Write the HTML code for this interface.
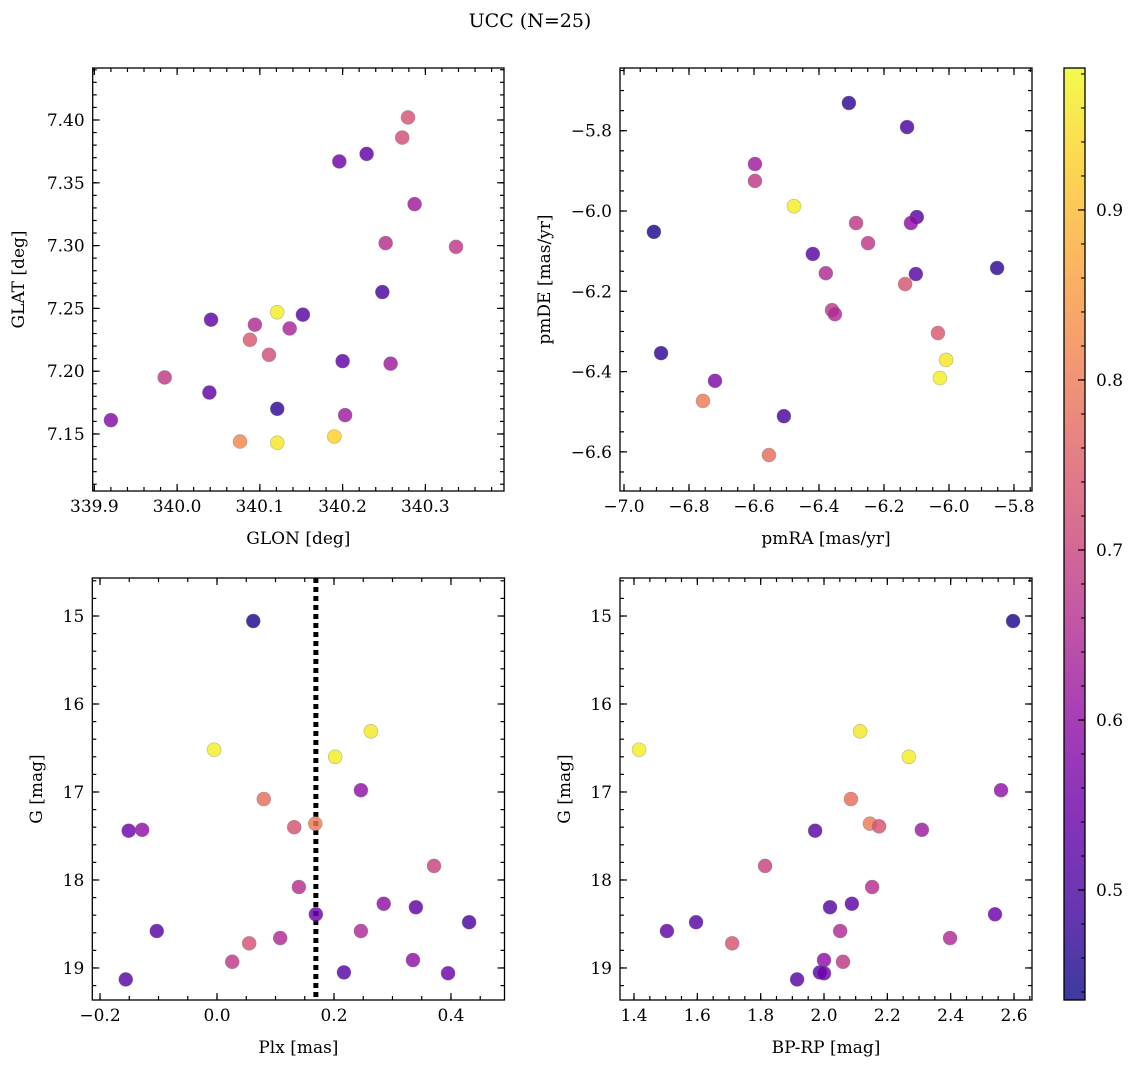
<!DOCTYPE html>
<html><head><meta charset="utf-8"><style>
html,body{margin:0;padding:0;background:#fff;}
svg text{font-family:"DejaVu Serif","Liberation Serif",serif;fill:#000;}
</style></head><body>
<svg id="fig" width="1136" height="1068" viewBox="0 0 1136 1068" xmlns="http://www.w3.org/2000/svg">
<defs>
<linearGradient id="plasma" x1="0" y1="1" x2="0" y2="0">
<stop offset="0" stop-color="#0d0887"/><stop offset="0.1" stop-color="#41049d"/><stop offset="0.2" stop-color="#6a00a8"/><stop offset="0.3" stop-color="#8f0da4"/><stop offset="0.4" stop-color="#b12a90"/><stop offset="0.5" stop-color="#cc4778"/><stop offset="0.6" stop-color="#e16462"/><stop offset="0.7" stop-color="#f2844b"/><stop offset="0.8" stop-color="#fca636"/><stop offset="0.9" stop-color="#fcce25"/><stop offset="1" stop-color="#f0f921"/>
</linearGradient>
</defs>
<text x="530" y="27" font-size="19" text-anchor="middle">UCC (N=25)</text>
</svg>
<script>
// ---- data ----
const glon = [340.279,340.272,340.196,340.229,340.287,340.252,340.337,340.248,340.121,340.152,340.041,340.094,340.136,340.088,340.111,340.200,340.258,339.985,340.039,339.920,340.121,340.203,340.076,340.121,340.190];
const glat = [7.402,7.386,7.367,7.373,7.333,7.302,7.299,7.263,7.247,7.245,7.241,7.237,7.234,7.225,7.213,7.208,7.206,7.195,7.183,7.161,7.170,7.165,7.144,7.143,7.148];
const probPos = [0.73,0.72,0.55,0.53,0.62,0.66,0.68,0.50,0.97,0.52,0.53,0.65,0.64,0.74,0.72,0.53,0.62,0.68,0.53,0.58,0.47,0.62,0.82,0.96,0.93];

const pmra = [-6.308,-6.129,-6.597,-6.597,-6.908,-6.477,-6.099,-6.286,-6.117,-6.249,-6.419,-6.379,-6.102,-5.852,-6.135,-6.360,-6.351,-6.034,-6.886,-6.009,-6.720,-6.028,-6.757,-6.508,-6.554];
const pmde = [-5.731,-5.791,-5.883,-5.925,-6.052,-5.988,-6.015,-6.030,-6.030,-6.080,-6.107,-6.155,-6.157,-6.142,-6.182,-6.247,-6.257,-6.304,-6.354,-6.371,-6.423,-6.416,-6.473,-6.511,-6.608];
const probPm = [0.47,0.50,0.62,0.68,0.45,0.97,0.52,0.68,0.60,0.68,0.52,0.65,0.52,0.47,0.73,0.68,0.65,0.74,0.47,0.96,0.57,0.97,0.80,0.50,0.78];

const plx = [0.062,-0.005,0.263,0.202,0.080,0.246,-0.151,-0.128,0.132,0.168,0.371,0.140,0.285,0.169,0.340,0.431,-0.103,0.246,0.055,0.108,0.026,0.335,-0.156,0.217,0.395];
const gmagA = [15.057,16.52,16.31,16.60,17.08,16.98,17.44,17.43,17.40,17.36,17.84,18.08,18.27,18.39,18.31,18.48,18.58,18.58,18.72,18.66,18.93,18.91,19.13,19.05,19.06];
const probPlx = [0.45,0.97,0.96,0.97,0.78,0.60,0.55,0.60,0.73,0.80,0.70,0.66,0.60,0.55,0.53,0.50,0.52,0.65,0.73,0.65,0.68,0.60,0.52,0.52,0.55];
const plxLine = [0.169];

const bprp = [2.597,1.416,2.114,2.268,2.559,2.085,1.972,2.145,2.174,2.309,1.814,2.152,2.088,2.019,2.540,1.596,1.504,2.051,1.710,2.398,2.060,2.000,1.915,1.987,2.000];
const gmagB = [15.057,16.52,16.31,16.60,16.98,17.08,17.44,17.36,17.39,17.43,17.84,18.08,18.27,18.31,18.39,18.48,18.58,18.58,18.72,18.66,18.93,18.91,19.13,19.05,19.06];
const probCmd = [0.45,0.97,0.96,0.97,0.60,0.78,0.52,0.80,0.73,0.62,0.70,0.66,0.53,0.52,0.55,0.52,0.53,0.65,0.73,0.65,0.68,0.60,0.52,0.52,0.55];

const cbarRange = [0.4353,0.9835];
const cbarTicks = [0.5,0.6,0.7,0.8,0.9];

// ---- helpers ----
const NS = "http://www.w3.org/2000/svg";
const svg = document.getElementById('fig');
function mk(tag, attrs, parent){
  const e = document.createElementNS(NS, tag);
  for (const k in attrs) e.setAttribute(k, attrs[k]);
  (parent||svg).appendChild(e);
  return e;
}
const stops = [[13,8,135],[65,4,157],[106,0,168],[143,13,164],[177,42,144],[204,71,120],[225,100,98],[242,132,75],[252,166,54],[252,206,37],[240,249,33]];
function plasma(t){
  t = Math.max(0, Math.min(1, t));
  const f = t*10, i = Math.min(9, Math.floor(f)), r = f - i;
  const a = stops[i], b = stops[i+1];
  return 'rgb(' + [0,1,2].map(k => Math.round(a[k] + (b[k]-a[k])*r)).join(',') + ')';
}
function colorOf(p){ return plasma((p - cbarRange[0])/(cbarRange[1]-cbarRange[0])); }
function fmt(v, d){ const s = Math.abs(v).toFixed(d); return (v < -1e-9 ? '\u2212' : '') + s; }
function ticksOf(min, max, step){
  const out = [];
  for (let k = Math.ceil(min/step - 1e-6); k <= Math.floor(max/step + 1e-6); k++) out.push(k*step);
  return out;
}

function panel(cfg){
  const g = mk('g', {});
  
  
  const sx = v => cfg.x0 + (v - cfg.xd[0])/(cfg.xd[1]-cfg.xd[0])*(cfg.x1-cfg.x0);
  const sy = cfg.invert
    ? v => cfg.y0 + (v - cfg.yd[0])/(cfg.yd[1]-cfg.yd[0])*(cfg.y1-cfg.y0)
    : v => cfg.y1 - (v - cfg.yd[0])/(cfg.yd[1]-cfg.yd[0])*(cfg.y1-cfg.y0);
  const tk = mk('g', {stroke:'#000','stroke-width':1.2}, g);
  
  
  ticksOf(cfg.xd[0], cfg.xd[1], cfg.xmin).forEach(v => {
    const x = sx(v); if (x < cfg.x0-0.5 || x > cfg.x1+0.5) return;
    mk('line', {x1:x,x2:x,y1:cfg.y1,y2:cfg.y1-4}, tk);
    mk('line', {x1:x,x2:x,y1:cfg.y0,y2:cfg.y0+4}, tk);
  });
  ticksOf(cfg.yd[0], cfg.yd[1], cfg.ymin).forEach(v => {
    const y = sy(v); if (y < cfg.y0-0.5 || y > cfg.y1+0.5) return;
    mk('line', {x1:cfg.x0,x2:cfg.x0+4,y1:y,y2:y}, tk);
    mk('line', {x1:cfg.x1,x2:cfg.x1-4,y1:y,y2:y}, tk);
  });
  ticksOf(cfg.xd[0], cfg.xd[1], cfg.xmaj).forEach(v => {
    const x = sx(v); if (x < cfg.x0-0.5 || x > cfg.x1+0.5) return;
    mk('line', {x1:x,x2:x,y1:cfg.y1,y2:cfg.y1-7}, tk);
    mk('line', {x1:x,x2:x,y1:cfg.y0,y2:cfg.y0+7}, tk);
    const t = mk('text', {x:x, y:cfg.y1+21, 'font-size':17, 'text-anchor':'middle'}, g);
    
    
    t.textContent = fmt(v, cfg.xdec);
  });
  ticksOf(cfg.yd[0], cfg.yd[1], cfg.ymaj).forEach(v => {
    const y = sy(v); if (y < cfg.y0-0.5 || y > cfg.y1+0.5) return;
    mk('line', {x1:cfg.x0,x2:cfg.x0+7,y1:y,y2:y}, tk);
    mk('line', {x1:cfg.x1,x2:cfg.x1-7,y1:y,y2:y}, tk);
    const t = mk('text', {x:cfg.x0-8, y:y+6, 'font-size':17, 'text-anchor':'end'}, g);
    
    
    t.textContent = fmt(v, cfg.ydec);
  });
  if (cfg.vline) cfg.vline.forEach(v => {
    const l = mk('line', {x1:sx(v), x2:sx(v), y1:cfg.y0, y2:cfg.y1, stroke:'#000','stroke-width':5,'stroke-dasharray':'5,4'}, g);
    
    
  });
  cfg.xs.forEach((xv, i) => {
    const c = mk('circle', {cx:sx(xv), cy:sy(cfg.ys[i]), r:7, fill:colorOf(cfg.cs[i]), 'fill-opacity':0.82, stroke:'#777', 'stroke-opacity':0.5, 'stroke-width':0.6}, g);
    
    
  });
  const fr = mk('rect', {x:cfg.x0, y:cfg.y0, width:cfg.x1-cfg.x0, height:cfg.y1-cfg.y0, fill:'none', stroke:'#000', 'stroke-width':1.3}, g);
  
  
  const xl = mk('text', {x:(cfg.x0+cfg.x1)/2, y:cfg.y1+53, 'font-size':17, 'text-anchor':'middle'}, g);
  
  
  xl.textContent = cfg.xlabel;
  const yc = (cfg.y0+cfg.y1)/2;
  const yl = mk('text', {x:cfg.ylx, y:yc, 'font-size':17, 'text-anchor':'middle', transform:'rotate(-90 '+cfg.ylx+' '+yc+')'}, g);
  
  
  yl.textContent = cfg.ylabel;
}

panel({name:'glon-glat-panel', x0:92.7, x1:504, y0:68, y1:491, xd:[339.898,340.395], yd:[7.1046,7.4414],
  xmaj:0.1, xmin:0.02, xdec:1, ymaj:0.05, ymin:0.01, ydec:2, xs:glon, ys:glat, cs:probPos,
  xlabel:'GLON [deg]', ylabel:'GLAT [deg]', ylx:24});
panel({name:'proper-motion-panel', x0:620, x1:1032, y0:68, y1:491, xd:[-7.0123,-5.7446], yd:[-6.6974,-5.6438],
  xmaj:0.2, xmin:0.05, xdec:1, ymaj:0.2, ymin:0.05, ydec:1, xs:pmra, ys:pmde, cs:probPm,
  xlabel:'pmRA [mas/yr]', ylabel:'pmDE [mas/yr]', ylx:550});
panel({name:'parallax-panel', x0:92.3, x1:504.5, y0:578, y1:1000, xd:[-0.2132,0.4915], yd:[14.568,19.364], invert:true,
  xmaj:0.2, xmin:0.05, xdec:1, ymaj:1, ymin:0.2, ydec:0, xs:plx, ys:gmagA, cs:probPlx, vline:plxLine,
  xlabel:'Plx [mas]', ylabel:'G [mag]', ylx:42});
panel({name:'cmd-panel', x0:620, x1:1032, y0:578, y1:1000, xd:[1.3558,2.6568], yd:[14.568,19.364], invert:true,
  xmaj:0.2, xmin:0.05, xdec:1, ymaj:1, ymin:0.2, ydec:0, xs:bprp, ys:gmagB, cs:probCmd,
  xlabel:'BP-RP [mag]', ylabel:'G [mag]', ylx:570});

// colorbar
const cb = mk('g', {});


const cbX0 = 1064, cbX1 = 1085, cbY0 = 68, cbY1 = 1000;
const cbar = mk('rect', {x:cbX0, y:cbY0, width:cbX1-cbX0, height:cbY1-cbY0, fill:'url(#plasma)', 'fill-opacity':0.8}, cb);


const cy = v => cbY1 - (v - cbarRange[0])/(cbarRange[1]-cbarRange[0])*(cbY1-cbY0);
ticksOf(cbarRange[0], cbarRange[1], 0.02).forEach(v => {
  mk('line', {x1:cbX1, x2:cbX1-4, y1:cy(v), y2:cy(v), stroke:'#000','stroke-width':1.1}, cb);
});
cbarTicks.forEach(v => {
  mk('line', {x1:cbX1, x2:cbX1-7, y1:cy(v), y2:cy(v), stroke:'#000','stroke-width':1.2}, cb);
  const t = mk('text', {x:cbX1+11, y:cy(v)+6, 'font-size':17}, cb);
  
  
  t.textContent = v.toFixed(1);
});
mk('rect', {x:cbX0, y:cbY0, width:cbX1-cbX0, height:cbY1-cbY0, fill:'none', stroke:'#000','stroke-width':1.3}, cb);
</script>
</body></html>
